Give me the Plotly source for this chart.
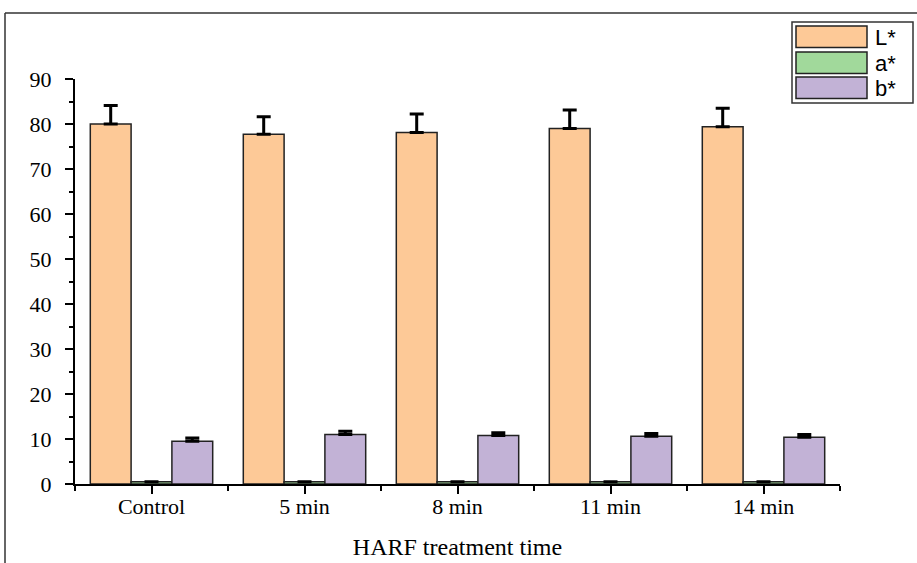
import plotly.graph_objects as go

categories = ["Control", "5 min", "8 min", "11 min", "14 min"]
series_names = ["L*", "a*", "b*"]
L_values = [80.0, 77.7, 78.1, 79.0, 79.4]
L_err = [4.1, 3.9, 4.1, 4.1, 4.1]
a_values = [0.5, 0.5, 0.5, 0.5, 0.5]
a_err = [0.0, 0.0, 0.0, 0.0, 0.0]
b_values = [9.5, 11.0, 10.8, 10.6, 10.4]
b_err = [0.7, 0.7, 0.6, 0.6, 0.6]
y_ticks = [0, 10, 20, 30, 40, 50, 60, 70, 80, 90]

colors = ["#FDC997", "#A1D99B", "#C2B2D6"]
xpos = list(range(len(categories)))

fig = go.Figure()
for name, vals, errs, col in zip(series_names, [L_values, a_values, b_values],
                                 [L_err, a_err, b_err], colors):
    fig.add_trace(go.Bar(
        x=xpos, y=vals, name=name,
        marker=dict(color=col, line=dict(color="#222222", width=1.5)),
        error_y=dict(type="data", symmetric=False, array=errs,
                     arrayminus=[0] * len(errs), thickness=3, width=7,
                     color="black", visible=True),
        showlegend=False,
    ))

serif = "Times New Roman, Liberation Serif, serif"
fig.update_layout(
    width=917, height=563,
    margin=dict(l=75, r=77, t=79, b=79),
    paper_bgcolor="white", plot_bgcolor="white",
    barmode="group", bargap=0.2, bargroupgap=0,
    xaxis=dict(
        range=[-0.5, 4.5], tickmode="array", tickvals=xpos, ticktext=categories,
        showline=True, linecolor="black", linewidth=2, showgrid=False, zeroline=False,
        ticks="outside", ticklen=8, tickwidth=2, tickcolor="black",
        tickfont=dict(family=serif, size=22, color="black"),
        ticklabelstandoff=-6,
        automargin=False,
        minor=dict(tickmode="array", tickvals=[-0.5, 0.5, 1.5, 2.5, 3.5, 4.5],
                   ticks="outside", ticklen=5, tickwidth=2, tickcolor="black"),
        title=dict(text="HARF treatment time", font=dict(family=serif, size=24, color="black"),
                   standoff=20),
    ),
    yaxis=dict(
        range=[0, 90], tickmode="array", tickvals=y_ticks,
        showline=True, linecolor="black", linewidth=2, showgrid=False, zeroline=False,
        ticks="outside", ticklen=8, tickwidth=2, tickcolor="black",
        tickfont=dict(family=serif, size=22, color="black"),
        ticklabelstandoff=9,
        automargin=False,
        minor=dict(dtick=5, ticks="outside", ticklen=4, tickwidth=2, tickcolor="black"),
    ),
)

# outer frame (top and left edges visible)
fig.add_shape(type="line", xref="paper", yref="paper", x0=-0.0915, x1=1.2, y0=1.163, y1=1.163,
              line=dict(color="#333333", width=1.5))
fig.add_shape(type="line", xref="paper", yref="paper", x0=-0.0915, x1=-0.0915, y0=1.163, y1=-0.3,
              line=dict(color="#333333", width=1.5))

# custom legend with large swatches
def px_x(p):
    return (p - 75) / 765.0

def px_y(p):
    return (484 - p) / 405.0

fig.add_shape(type="rect", xref="paper", yref="paper",
              x0=px_x(792), x1=px_x(913), y0=px_y(103), y1=px_y(22),
              line=dict(color="#333333", width=1.5), fillcolor="white")
sw_tops = [26, 52, 77]
for name, col, top in zip(series_names, colors, sw_tops):
    fig.add_shape(type="rect", xref="paper", yref="paper",
                  x0=px_x(796), x1=px_x(867), y0=px_y(top + 21.5), y1=px_y(top),
                  line=dict(color="#222222", width=1.5), fillcolor=col)
    fig.add_annotation(xref="paper", yref="paper", x=px_x(873), y=px_y(top + 11),
                       text=name, showarrow=False, xanchor="left", yanchor="middle",
                       height=22, valign="middle",
                       font=dict(family="Arial, Liberation Sans, sans-serif", size=22, color="black"))

fig.write_html("out.html", config={"displayModeBar": False},
               post_script="document.body.style.margin='0';document.body.style.padding='0';document.body.style.overflow='hidden';")
